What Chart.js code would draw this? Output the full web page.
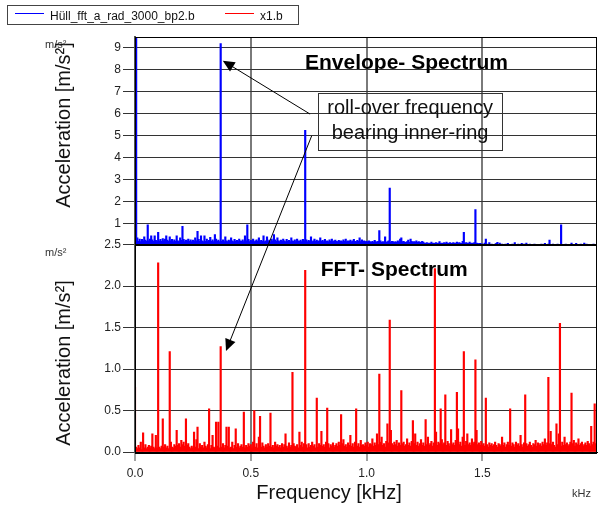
<!DOCTYPE html>
<html>
<head>
<meta charset="utf-8">
<script src="https://cdn.jsdelivr.net/npm/chart.js@4.4.1/dist/chart.umd.min.js"></script>
<style>
  html, body { margin: 0; padding: 0; background: #fff; }
  #wrap { width: 608px; height: 506px; }
</style>
</head>
<body>
<div id="wrap"><canvas id="spectrum" width="608" height="506"></canvas></div>
<script>
// frequency resolution of both spectra, kHz per bin (400 bins, 0 .. 1.995 kHz)
const binWidth = 0.005;

// envelope spectrum (blue), noise floor per bin in m/s²
const envelopeNoise = [
  0.30,0.25,0.35,0.20,0.30,0.18,0.28,0.22,0.40,0.25,0.20,0.35,0.22,0.30,0.18,0.26,0.20,0.45,0.24,0.18,0.30,0.22,0.28,0.20,0.32,
  0.22,0.30,0.18,0.25,0.20,0.40,0.22,0.28,0.18,0.26,0.20,0.30,0.22,0.18,0.35,0.24,0.20,0.28,0.18,0.25,0.22,0.30,0.20,0.26,0.18,
  0.25,0.20,0.35,0.22,0.18,0.28,0.20,0.45,0.22,0.18,0.26,0.20,0.30,0.18,0.24,0.38,0.20,0.26,0.18,0.22,0.30,0.20,0.25,0.18,0.28,
  0.20,0.26,0.18,0.30,0.22,0.18,0.25,0.20,0.35,0.22,0.18,0.28,0.20,0.24,0.18,0.30,0.22,0.20,0.26,0.18,0.45,0.22,0.20,0.28,0.18,
  0.24,0.20,0.30,0.18,0.22,0.26,0.20,0.35,0.18,0.24,0.20,0.28,0.18,0.22,0.40,0.20,0.25,0.18,0.30,0.22,0.18,0.26,0.20,0.35,0.22,
  0.18,0.25,0.20,0.30,0.22,0.18,0.28,0.20,0.24,0.18,0.35,0.22,0.20,0.26,0.18,0.30,0.22,0.20,0.25,0.18,0.28,0.22,0.20,0.26,0.18,
  0.24,0.20,0.28,0.18,0.22,0.30,0.20,0.25,0.18,0.22,0.35,0.20,0.24,0.18,0.28,0.20,0.22,0.18,0.26,0.20,0.30,0.18,0.22,0.25,0.20,
  0.18,0.24,0.20,0.22,0.18,0.26,0.20,0.30,0.18,0.22,0.20,0.25,0.18,0.22,0.28,0.20,0.18,0.24,0.20,0.22,0.18,0.26,0.20,0.22,0.18,
  0.20,0.16,0.22,0.18,0.15,0.20,0.16,0.24,0.18,0.15,0.20,0.16,0.22,0.15,0.18,0.16,0.20,0.15,0.18,0.22,0.16,0.15,0.20,0.18,0.15,
  0.18,0.15,0.22,0.16,0.30,0.15,0.18,0.20,0.16,0.15,0.18,0.25,0.15,0.16,0.20,0.15,0.18,0.16,0.22,0.15,0.18,0.16,0.15,0.20,0.16,
  0.12,0.10,0.14,0.10,0.12,0.10,0.16,0.10,0.12,0.10,0.14,0.10,0.12,0.18,0.10,0.12,0.10,0.14,0.10,0.16,0.12,0.10,0.14,0.10,0.12,
  0.14,0.10,0.12,0.16,0.10,0.14,0.12,0.10,0.20,0.12,0.10,0.14,0.12,0.10,0.16,0.10,0.12,0.10,0.14,0.10,0.12,0.10,0.08,0.10,0.08,
  0.07,0.06,0.12,0.06,0.07,0.06,0.14,0.06,0.07,0.06,0.06,0.07,0.10,0.06,0.06,0.12,0.06,0.07,0.06,0.06,0.07,0.06,0.10,0.06,0.06,
  0.06,0.07,0.06,0.14,0.06,0.06,0.07,0.06,0.06,0.10,0.06,0.07,0.06,0.12,0.06,0.06,0.07,0.06,0.06,0.06,0.07,0.06,0.06,0.06,0.06,
  0.06,0.07,0.06,0.06,0.10,0.06,0.06,0.07,0.06,0.06,0.06,0.07,0.06,0.06,0.06,0.07,0.06,0.06,0.12,0.06,0.06,0.06,0.07,0.06,0.06,
  0.06,0.06,0.07,0.06,0.06,0.06,0.10,0.06,0.06,0.06,0.07,0.06,0.06,0.06,0.06,0.07,0.06,0.06,0.06,0.06,0.06,0.07,0.06,0.06,0.06
];
const envelopePeakFreq = [0.000, 0.005, 0.055, 0.070, 0.100, 0.135, 0.180, 0.205, 0.268, 0.300, 0.346, 0.370, 0.390,
  0.484, 0.555, 0.600, 0.737, 0.760, 0.970, 1.055, 1.080, 1.102, 1.150, 1.190, 1.422, 1.468, 1.515, 1.567,
  1.790, 1.838, 1.887, 1.940];
const envelopePeakAmp = [12.0, 10.0, 0.95, 0.45, 0.60, 0.45, 0.45, 0.88, 0.65, 0.45, 0.50, 9.20, 0.40,
  0.95, 0.45, 0.50, 5.25, 0.40, 0.35, 0.68, 0.40, 2.62, 0.35, 0.30, 0.60, 1.64, 0.30, 0.15,
  0.25, 0.95, 0.12, 0.12];

// FFT spectrum (red), noise floor per bin in m/s²
const fftNoise = [
  0.10,0.06,0.04,0.08,0.05,0.12,0.03,0.07,0.05,0.09,0.04,0.06,0.08,0.05,0.07,0.22,0.06,0.04,0.08,0.05,0.10,0.06,0.04,0.07,0.05,
  0.06,0.09,0.05,0.07,0.04,0.08,0.12,0.06,0.05,0.09,0.07,0.26,0.08,0.10,0.06,0.14,0.09,0.12,0.07,0.05,0.08,0.10,0.06,0.04,0.07,
  0.05,0.09,0.06,0.15,0.07,0.04,0.10,0.06,0.08,0.05,0.12,0.07,0.05,0.09,0.06,0.04,0.08,0.11,0.06,0.05,0.09,0.07,0.12,0.05,0.08,
  0.06,0.10,0.05,0.08,0.30,0.07,0.09,0.05,0.06,0.12,0.04,0.08,0.28,0.06,0.10,0.05,0.07,0.09,0.06,0.11,0.05,0.08,0.06,0.10,0.07,
  0.09,0.05,0.12,0.07,0.06,0.10,0.05,0.18,0.08,0.06,0.11,0.07,0.05,0.09,0.06,0.10,0.07,0.15,0.06,0.08,0.05,0.12,0.07,0.09,0.06,
  0.08,0.05,0.10,0.06,0.09,0.22,0.07,0.05,0.11,0.06,0.08,0.05,0.10,0.07,0.06,0.09,0.05,0.24,0.08,0.12,0.06,0.10,0.07,0.09,0.05,
  0.10,0.06,0.08,0.12,0.07,0.09,0.05,0.14,0.06,0.10,0.08,0.25,0.07,0.09,0.06,0.12,0.08,0.10,0.05,0.09,0.07,0.11,0.06,0.08,0.10,
  0.07,0.12,0.08,0.06,0.10,0.15,0.07,0.09,0.06,0.11,0.08,0.20,0.07,0.10,0.06,0.12,0.09,0.07,0.10,0.06,0.14,0.08,0.09,0.07,0.11,
  0.08,0.12,0.06,0.10,0.09,0.16,0.07,0.11,0.08,0.22,0.09,0.07,0.12,0.18,0.08,0.10,0.06,0.13,0.09,0.11,0.07,0.26,0.10,0.08,0.12,
  0.09,0.14,0.07,0.11,0.08,0.30,0.10,0.12,0.07,0.09,0.16,0.08,0.11,0.07,0.13,0.09,0.10,0.22,0.08,0.12,0.07,0.10,0.15,0.08,0.11,
  0.07,0.12,0.09,0.18,0.08,0.10,0.13,0.07,0.11,0.09,0.24,0.08,0.12,0.10,0.07,0.15,0.09,0.11,0.20,0.08,0.13,0.10,0.07,0.12,0.09,
  0.11,0.08,0.14,0.10,0.28,0.09,0.12,0.07,0.18,0.10,0.08,0.13,0.22,0.09,0.11,0.08,0.16,0.10,0.12,0.07,0.26,0.09,0.11,0.08,0.13,
  0.08,0.10,0.07,0.12,0.09,0.06,0.11,0.08,0.10,0.07,0.09,0.12,0.08,0.06,0.10,0.09,0.07,0.18,0.08,0.11,0.06,0.09,0.12,0.08,0.10,
  0.07,0.11,0.09,0.06,0.12,0.08,0.10,0.07,0.20,0.09,0.06,0.11,0.08,0.10,0.07,0.09,0.12,0.08,0.06,0.10,0.09,0.14,0.07,0.11,0.08,
  0.10,0.07,0.12,0.09,0.16,0.08,0.11,0.07,0.10,0.25,0.09,0.12,0.08,0.06,0.11,0.09,0.22,0.10,0.07,0.12,0.08,0.18,0.09,0.11,0.07,
  0.09,0.12,0.08,0.10,0.14,0.07,0.11,0.09,0.16,0.08,0.10,0.12,0.07,0.09,0.11,0.08,0.13,0.10,0.07,0.22,0.09,0.12,0.08,0.10,0.11
];
const fftPeakFreq = [0.000, 0.035, 0.088, 0.100, 0.118, 0.150, 0.220, 0.255, 0.272, 0.320, 0.333, 0.350, 0.360, 0.372,
  0.405, 0.436, 0.470, 0.515, 0.540, 0.587, 0.680, 0.736, 0.786, 0.832, 0.888, 0.953, 1.053, 1.088, 1.102,
  1.151, 1.198, 1.254, 1.295, 1.319, 1.342, 1.366, 1.389, 1.421, 1.468, 1.516, 1.621, 1.685, 1.787, 1.820,
  1.835, 1.884, 1.970, 1.986];
const fftPeakAmp = [0.78, 0.23, 0.20, 2.28, 0.40, 1.21, 0.40, 0.24, 0.30, 0.52, 0.20, 0.36, 0.36, 1.27,
  0.30, 0.28, 0.48, 0.50, 0.43, 0.47, 0.96, 2.19, 0.65, 0.53, 0.45, 0.52, 0.94, 0.34, 1.59,
  0.74, 0.38, 0.39, 2.21, 0.52, 0.69, 0.27, 0.72, 1.21, 1.11, 0.65, 0.52, 0.69, 0.90, 0.34,
  1.55, 0.71, 0.31, 0.58];

// axis ticks
const freqTicks = [0, 0.5, 1.0, 1.5];
const envelopeTicks = [1, 2, 3, 4, 5, 6, 7, 8, 9];
const fftTicks = [0, 0.5, 1.0, 1.5, 2.0, 2.5];

const FONT = '"Liberation Sans", Arial, Helvetica, sans-serif';

function buildSpectrum(noise, peakFreq, peakAmp) {
  const values = noise.slice();
  peakFreq.forEach((f, i) => {
    const bin = Math.round(f / binWidth);
    values[bin] = Math.max(values[bin], peakAmp[i]);
  });
  return values.map((v, i) => ({ x: i * binWidth, y: v }));
}

function drawArrow(ctx, x1, y1, x2, y2) {
  const ang = Math.atan2(y1 - y2, x1 - x2);
  const len = 13, spread = 0.43;
  ctx.beginPath();
  ctx.moveTo(x1, y1);
  ctx.lineTo(x2 + 8 * Math.cos(ang), y2 + 8 * Math.sin(ang));
  ctx.stroke();
  ctx.beginPath();
  ctx.moveTo(x2, y2);
  ctx.lineTo(x2 + len * Math.cos(ang + spread), y2 + len * Math.sin(ang + spread));
  ctx.lineTo(x2 + len * Math.cos(ang - spread), y2 + len * Math.sin(ang - spread));
  ctx.closePath();
  ctx.fill();
}

// frames, legend, titles and the annotation
const decorations = {
  id: 'decorations',
  afterDraw(chart) {
    const { ctx, chartArea: area, scales: { x, yEnv, yFft } } = chart;
    const px = v => x.getPixelForValue(v);
    ctx.save();

    // panel frames
    ctx.strokeStyle = '#000';
    ctx.lineWidth = 1;
    [yEnv, yFft].forEach(s => {
      ctx.strokeRect(Math.round(area.left) + 0.5, Math.round(s.top) + 0.5,
        Math.round(area.right - area.left) - 1, Math.round(s.bottom - s.top));
    });
    ctx.lineWidth = 2;
    ctx.beginPath();
    ctx.moveTo(area.left, Math.round(yEnv.bottom));
    ctx.lineTo(area.right, Math.round(yEnv.bottom));
    ctx.stroke();

    // legend
    ctx.lineWidth = 1;
    ctx.strokeStyle = '#444';
    ctx.strokeRect(7.5, 5.5, 291, 19);
    ctx.font = '12px ' + FONT;
    ctx.textBaseline = 'alphabetic';
    ctx.textAlign = 'left';
    ctx.fillStyle = '#111';
    chart.data.datasets.forEach((ds, i) => {
      const x0 = i === 0 ? 15 : 225;
      const tx = i === 0 ? 50 : 260;
      ctx.strokeStyle = ds.backgroundColor;
      ctx.beginPath();
      ctx.moveTo(x0, 13.5);
      ctx.lineTo(x0 + 29, 13.5);
      ctx.stroke();
      ctx.fillText(ds.label, tx, 19.5);
    });

    // axis titles and units
    ctx.fillStyle = '#111';
    ctx.font = '20px ' + FONT;
    [125, 363].forEach(cy => {
      ctx.save();
      ctx.translate(70, cy);
      ctx.rotate(-Math.PI / 2);
      ctx.textAlign = 'center';
      ctx.fillText('Acceleration [m/s²]', 0, 0);
      ctx.restore();
    });
    ctx.textAlign = 'center';
    ctx.fillText('Frequency [kHz]', px(0.838), 499);
    ctx.font = '11px ' + FONT;
    ctx.fillStyle = '#333';
    ctx.textAlign = 'left';
    ctx.fillText('m/s²', 45, 48);
    ctx.fillText('m/s²', 45, 256);
    ctx.fillText('kHz', 572, 497);

    // panel titles
    ctx.fillStyle = '#000';
    ctx.font = 'bold 21px ' + FONT;
    ctx.fillText('Envelope- Spectrum', px(0.734), yEnv.getPixelForValue(8.03));
    ctx.fillText('FFT- Spectrum', px(0.802), yFft.getPixelForValue(2.124));

    // annotation box
    const bl = px(0.791), br = px(1.585);
    const bt = yEnv.getPixelForValue(6.93), bb = yEnv.getPixelForValue(4.32);
    ctx.strokeStyle = '#333';
    ctx.lineWidth = 1;
    ctx.strokeRect(Math.round(bl) + 0.5, Math.round(bt) + 0.5, Math.round(br - bl), Math.round(bb - bt));
    ctx.font = '20px ' + FONT;
    ctx.fillStyle = '#111';
    ctx.textAlign = 'center';
    ctx.fillText('roll-over frequency', (bl + br) / 2, yEnv.getPixelForValue(5.99));
    ctx.fillText('bearing inner-ring', (bl + br) / 2, yEnv.getPixelForValue(4.85));

    // arrows to the inner-ring peaks
    ctx.strokeStyle = '#000';
    ctx.fillStyle = '#000';
    ctx.lineWidth = 1;
    drawArrow(ctx, px(0.756), yEnv.getPixelForValue(5.99), px(0.379), yEnv.getPixelForValue(8.42));
    drawArrow(ctx, px(0.763), yEnv.getPixelForValue(5.00), px(0.393), yFft.getPixelForValue(1.217));

    ctx.restore();
  }
};

const tickFont = { family: FONT, size: 12 };

new Chart(document.getElementById('spectrum'), {
  type: 'bar',
  data: {
    datasets: [
      {
        label: 'Hüll_fft_a_rad_3000_bp2.b',
        data: buildSpectrum(envelopeNoise, envelopePeakFreq, envelopePeakAmp),
        yAxisID: 'yEnv',
        backgroundColor: '#0000ff',
        borderWidth: 0,
        barThickness: 1.5,
        grouped: false,
        base: 0.05
      },
      {
        label: 'x1.b',
        data: buildSpectrum(fftNoise, fftPeakFreq, fftPeakAmp),
        yAxisID: 'yFft',
        backgroundColor: '#ff0000',
        borderWidth: 0,
        barThickness: 1.5,
        grouped: false,
        base: 0
      }
    ]
  },
  options: {
    responsive: false,
    animation: false,
    devicePixelRatio: 1,
    layout: { padding: { top: 37, right: 11, bottom: 0, left: 0 } },
    plugins: {
      legend: { display: false },
      tooltip: { enabled: false }
    },
    scales: {
      x: {
        type: 'linear',
        min: 0,
        max: 1.995,
        offset: false,
        afterBuildTicks: s => { s.ticks = freqTicks.map(v => ({ value: v })); },
        afterFit: s => { s.height = 54; },
        ticks: { font: tickFont, color: '#222', padding: 5, maxRotation: 0, autoSkip: false, callback: v => v.toFixed(1) },
        grid: { offset: false, color: '#7a7a7a', lineWidth: 2, tickLength: 9, tickColor: '#444', tickWidth: 1 },
        border: { display: true, color: '#000', width: 1 }
      },
      // stacked panels: the first one listed ends up at the bottom
      yFft: {
        type: 'linear',
        position: 'left',
        stack: 'panels',
        stackWeight: 1,
        min: 0,
        max: 2.5,
        afterBuildTicks: s => { s.ticks = fftTicks.map(v => ({ value: v })); },
        afterFit: s => { s.width = 135; },
        ticks: { font: tickFont, color: '#222', padding: 2, autoSkip: false, callback: v => v.toFixed(1) },
        grid: { color: '#333', lineWidth: 1, tickLength: 12, tickColor: '#333' },
        border: { display: true, color: '#555', width: 2 }
      },
      yEnv: {
        type: 'linear',
        position: 'left',
        stack: 'panels',
        stackWeight: 1,
        min: 0.05,
        max: 9.5,
        beginAtZero: false,
        afterBuildTicks: s => { s.ticks = envelopeTicks.map(v => ({ value: v })); },
        afterFit: s => { s.width = 135; },
        ticks: { font: tickFont, color: '#222', padding: 2, autoSkip: false, callback: v => v.toFixed(0) },
        grid: { color: '#333', lineWidth: 1, tickLength: 12, tickColor: '#333' },
        border: { display: true, color: '#555', width: 2 }
      }
    }
  },
  plugins: [decorations]
});
</script>
</body>
</html>
